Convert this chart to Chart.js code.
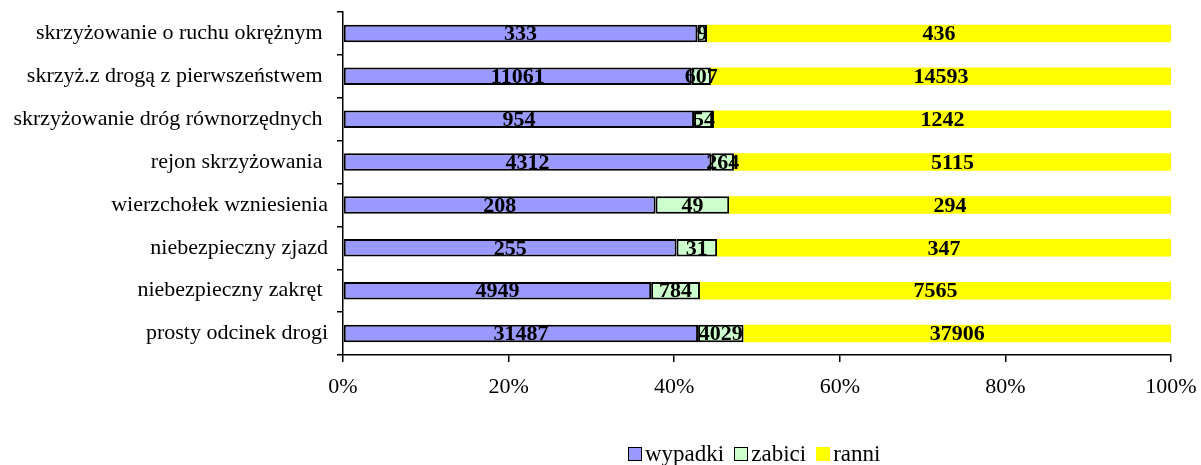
<!DOCTYPE html>
<html lang="pl">
<head>
    <meta charset="UTF-8">
    <title>Wypadki wg miejsca</title>
    <script src="https://cdn.jsdelivr.net/npm/chart.js"></script>
    <style>
        body { margin: 0; background: #fff; font-family: "Liberation Serif", serif; }
        #wrap { position: relative; width: 1201px; height: 465px; }
        #legend { position: absolute; left: 628px; top: 441px; font-size: 23px; line-height: 26px; display: flex; align-items: center; white-space: nowrap; }
        #legend span.box { display: inline-block; flex: 0 0 auto; width: 14px; height: 14px; margin-right: 3px; box-sizing: border-box; }
        #legend span.txt { margin-right: 10px; }
    </style>
</head>
<body>
    <div id="wrap">
        <canvas id="chart" width="1201" height="465"></canvas>
        <div id="legend"></div>
    </div>

    <script>
        const categories = [
            'skrzyżowanie o ruchu okrężnym ',
            'skrzyż.z drogą z pierwszeństwem ',
            'skrzyżowanie dróg równorzędnych ',
            'rejon skrzyżowania ',
            'wierzchołek wzniesienia',
            'niebezpieczny zjazd',
            'niebezpieczny zakręt ',
            'prosty odcinek drogi'
        ];
        const wypadki = [333, 11061, 954, 4312, 208, 255, 4949, 31487];
        const zabici = [9, 607, 54, 264, 49, 31, 784, 4029];
        const ranni = [436, 14593, 1242, 5115, 294, 347, 7565, 37906];
        const xTicks = [0, 20, 40, 60, 80, 100];

        const seriesNames = ['wypadki', 'zabici', 'ranni'];
        const seriesRaw = [wypadki, zabici, ranni];
        const colors = ['#9999ff', '#ccffcc', '#ffff00'];
        const borders = [2, 2, 0];

        const font = '"Liberation Serif", "Times New Roman", serif';

        // share of each row (100% stacked)
        const totals = categories.map((c, i) => wypadki[i] + zabici[i] + ranni[i]);

        const datasets = seriesRaw.map((arr, k) => ({
            label: seriesNames[k],
            data: arr.map((v, i) => v / totals[i] * 100),
            raw: arr,
            backgroundColor: colors[k],
            borderColor: '#000',
            borderWidth: borders[k],
            borderSkipped: false,
            barPercentage: 0.41,
            categoryPercentage: 1
        }));

        // value labels in the middle of every segment
        const valueLabels = {
            id: 'valueLabels',
            afterDatasetsDraw(chart) {
                const ctx = chart.ctx;
                ctx.save();
                ctx.font = 'bold 22px ' + font;
                ctx.fillStyle = '#000';
                ctx.textAlign = 'center';
                ctx.textBaseline = 'middle';
                chart.data.datasets.forEach((ds, k) => {
                    chart.getDatasetMeta(k).data.forEach((bar, i) => {
                        ctx.fillText(String(ds.raw[i]), (bar.x + bar.base) / 2, bar.y + 1);
                    });
                });
                ctx.restore();
            }
        };

        // keep label overhang from pushing the plot area around
        const noPad = s => { s.paddingTop = 0; s.paddingBottom = 0; s.paddingLeft = 0; s.paddingRight = 0; };

        new Chart(document.getElementById('chart'), {
            type: 'bar',
            data: { labels: categories, datasets: datasets },
            options: {
                indexAxis: 'y',
                responsive: false,
                animation: false,
                layout: { padding: { top: 12, right: 30, left: 0, bottom: 0 } },
                plugins: {
                    legend: { display: false },
                    tooltip: { enabled: false }
                },
                scales: {
                    x: {
                        stacked: true,
                        min: 0,
                        max: 100,
                        afterBuildTicks: s => { s.ticks = xTicks.map(v => ({ value: v })); },
                        afterFit: s => { s.height = 110; noPad(s); },
                        ticks: {
                            callback: v => v + '%',
                            color: '#000',
                            font: { family: font, size: 22 },
                            padding: 12,
                            maxRotation: 0
                        },
                        grid: { drawOnChartArea: false, drawTicks: true, tickLength: 7, color: '#000', lineWidth: 1.5 },
                        border: { display: true, color: '#000', width: 1.5 }
                    },
                    y: {
                        stacked: true,
                        afterFit: s => { s.width = 343; noPad(s); },
                        ticks: {
                            color: '#000',
                            font: { family: font, size: 22 },
                            padding: 9
                        },
                        grid: { drawOnChartArea: false, drawTicks: true, tickLength: 6, color: '#000', lineWidth: 1.5, offset: true },
                        border: { display: true, color: '#000', width: 1.5 }
                    }
                }
            },
            plugins: [valueLabels]
        });

        // legend below the chart
        const legend = document.getElementById('legend');
        seriesNames.forEach((name, k) => {
            const box = document.createElement('span');
            box.className = 'box';
            box.style.background = colors[k];
            if (borders[k]) box.style.border = '1.5px solid #000';
            const txt = document.createElement('span');
            txt.className = 'txt';
            txt.textContent = name;
            legend.appendChild(box);
            legend.appendChild(txt);
        });
    </script>
</body>
</html>
